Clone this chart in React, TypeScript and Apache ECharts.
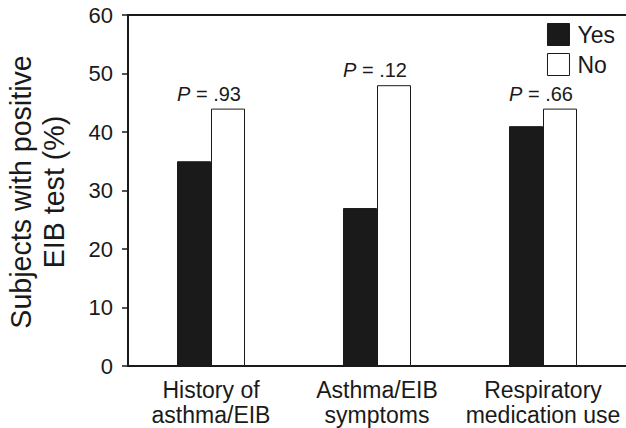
import React, { useEffect, useRef } from "react";
import * as echarts from "echarts";

const categories = ["History of\nasthma/EIB", "Asthma/EIB\nsymptoms", "Respiratory\nmedication use"];
const yesValues = [35, 27, 41];
const noValues = [44, 48, 44];
const pValues = [".93", ".12", ".66"];
const yTicks = [0, 10, 20, 30, 40, 50, 60];
const yNameLines = ["Subjects with positive", "EIB test (%)"];

const FONT = "'Liberation Sans', Arial, Helvetica, sans-serif";
const INK = "#1a1a1a";

export default function App() {
  const ref = useRef<HTMLDivElement>(null);
  useEffect(() => {
    if (!ref.current) return;
    const chart = echarts.init(ref.current, undefined, { renderer: "svg" });
    chart.setOption({
      animation: false,
      backgroundColor: "#fff",
      textStyle: { fontFamily: FONT },
      grid: { left: 128, right: 0, top: 15, bottom: 62, containLabel: false, outerBoundsMode: "none" },
      graphic: yNameLines.map((t, i) => ({
        type: "text",
        x: 21 + i * 33,
        y: 192,
        rotation: Math.PI / 2,
        style: {
          text: t,
          fontSize: 28.6,
          fontFamily: FONT,
          fill: INK,
          textAlign: "center",
          textVerticalAlign: "middle",
        },
      })),
      legend: {
        orient: "vertical",
        right: 6,
        top: 18,
        itemWidth: 22,
        itemHeight: 22,
        itemGap: 7,
        icon: "rect",
        textStyle: { fontSize: 23, color: INK, fontFamily: FONT, padding: [0, 0, 0, 3] },
        data: [
          { name: "Yes", itemStyle: { color: INK, borderColor: INK, borderWidth: 1 } },
          { name: "No", itemStyle: { color: "#fff", borderColor: INK, borderWidth: 1 } },
        ],
      },
      xAxis: [
        {
          type: "category",
          data: categories,
          axisLine: { lineStyle: { color: INK, width: 2 } },
          axisTick: { show: false },
          axisLabel: { fontSize: 23, lineHeight: 25, color: INK, margin: 11, fontFamily: FONT, interval: 0 },
        },
        {
          type: "category",
          position: "top",
          data: categories,
          axisLine: { show: true, lineStyle: { color: INK, width: 2 } },
          axisTick: { show: false },
          axisLabel: { show: false },
        },
      ],
      yAxis: {
        type: "value",
        min: yTicks[0],
        max: yTicks[yTicks.length - 1],
        interval: 10,
        axisLine: { show: true, lineStyle: { color: INK, width: 2 } },
        axisTick: { show: true, length: 6, lineStyle: { color: INK, width: 1.5 } },
        axisLabel: { fontSize: 22, color: INK, margin: 15, fontFamily: FONT },
        splitLine: { show: false },
      },
      series: [
        {
          name: "Yes",
          type: "bar",
          data: yesValues,
          barWidth: 34,
          barGap: "0%",
          itemStyle: { color: INK, borderColor: INK, borderWidth: 1 },
        },
        {
          name: "No",
          type: "bar",
          data: noValues,
          barWidth: 34,
          barGap: "0%",
          itemStyle: { color: "#fff", borderColor: INK, borderWidth: 1 },
          label: {
            show: true,
            position: "top",
            distance: 5,
            offset: [-19, 0],
            fontSize: 20,
            color: INK,
            fontFamily: FONT,
            formatter: (p: any) => `{i|P} = ${pValues[p.dataIndex]}`,
            rich: {
              i: { fontStyle: "italic", fontSize: 20, color: INK, fontFamily: FONT },
            },
          },
        },
      ],
    });
    return () => chart.dispose();
  }, []);
  return (
    <div
      ref={ref}
      style={{ position: "fixed", left: 0, top: 0, width: 626, height: 428, background: "#fff" }}
    />
  );
}
